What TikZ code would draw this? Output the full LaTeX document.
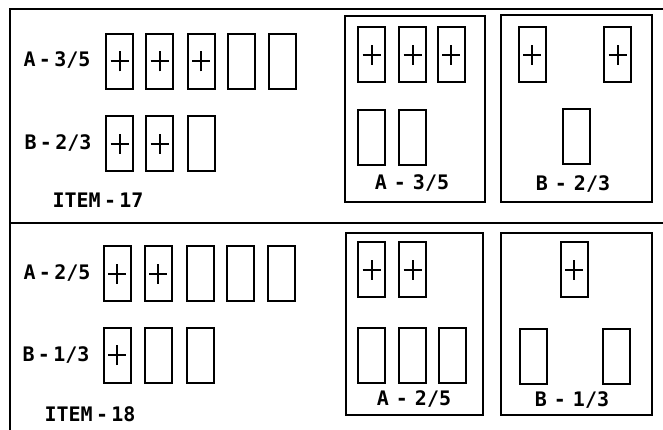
\documentclass[tikz,border=0pt]{standalone}
\usepackage{fontspec}
\setmonofont{DejaVu Sans Mono}
\usetikzlibrary{positioning}

\begin{document}
\begin{tikzpicture}[
    x=1pt, y=-1pt,
    card/.style={rectangle, draw, line width=2pt, minimum width=27pt, minimum height=55pt, inner sep=0pt},
    plus/.style={card, path picture={
        \draw[line width=2pt] ([xshift=-9pt]path picture bounding box.center) -- ([xshift=9pt]path picture bounding box.center)
            ([yshift=-10pt]path picture bounding box.center) -- ([yshift=10pt]path picture bounding box.center);}},
    panel/.style={rectangle, draw, line width=1.8pt, inner sep=0pt},
    frameline/.style={line width=2.4pt},
    lbl/.style={font=\ttfamily\bfseries\fontsize{20}{20}\selectfont, inner sep=0pt},
]
\useasboundingbox (0,0) rectangle (663,430);

% outer frame, open at right and bottom
\draw[frameline] (663,9) -- (10,9) -- (10,430);
\draw[frameline] (10,223) -- (663,223);

% ITEM-17, rows
\node[lbl] (la17) at (57,60) {A\,-\,3/5};
\node[lbl] (lb17) at (58,143) {B\,-\,2/3};
\node[lbl] (item17) at (98,200) {ITEM\,-\,17};
\foreach \i/\x in {1/119.5, 2/159.5, 3/201}
  \node[plus] (a17-\i) at (\x,61.5) {};
\node[card] (a17-4) at (241,61.5) {};
\node[card] (a17-5) at (282,61.5) {};
\node[plus] (b17-1) at (119.5,144) {};
\node[plus] (b17-2) at (159.5,144) {};
\node[card] (b17-3) at (201,144) {};

% ITEM-17, panels
\node[panel, minimum width=140pt, minimum height=186pt] (pa17) at (415,109) {};
\node[panel, minimum width=151pt, minimum height=187pt] (pb17) at (576.5,108.5) {};
\foreach \i/\x in {1/371.5, 2/412.5, 3/451}
  \node[plus] (pa17-t\i) at (\x,55) {};
\foreach \i/\x in {1/371, 2/412}
  \node[card] (pa17-b\i) at (\x,137.5) {};
\node[lbl] (pla17) at (412,183) {A\hspace{0.35em}-\hspace{0.35em}3/5};
\node[plus] (pb17-t1) at (532,55) {};
\node[plus] (pb17-t2) at (617.5,55) {};
\node[card] (pb17-b1) at (576,137) {};
\node[lbl] (plb17) at (573,184) {B\hspace{0.35em}-\hspace{0.35em}2/3};

% ITEM-18, rows
\node[lbl] (la18) at (57,273) {A\,-\,2/5};
\node[lbl] (lb18) at (56,355) {B\,-\,1/3};
\node[lbl] (item18) at (90,414) {ITEM\,-\,18};
\node[plus] (a18-1) at (117,273.5) {};
\node[plus] (a18-2) at (158,273.5) {};
\foreach \i/\x in {3/200, 4/240, 5/281}
  \node[card] (a18-\i) at (\x,273.5) {};
\node[plus] (b18-1) at (117,355) {};
\node[card] (b18-2) at (158,355) {};
\node[card] (b18-3) at (200,355) {};

% ITEM-18, panels
\node[panel, minimum width=137pt, minimum height=182pt] (pa18) at (414.5,324) {};
\node[panel, minimum width=151pt, minimum height=182pt] (pb18) at (576.5,324) {};
\foreach \i/\x in {1/371.5, 2/412.5}
  \node[plus] (pa18-t\i) at (\x,269.5) {};
\foreach \i/\x in {1/371.5, 2/412.5, 3/452}
  \node[card] (pa18-b\i) at (\x,355) {};
\node[lbl] (pla18) at (414,399) {A\hspace{0.35em}-\hspace{0.35em}2/5};
\node[plus] (pb18-t1) at (574,269.5) {};
\node[card] (pb18-b1) at (533,356) {};
\node[card] (pb18-b2) at (616.5,356) {};
\node[lbl] (plb18) at (572,400) {B\hspace{0.35em}-\hspace{0.35em}1/3};
\end{tikzpicture}
\end{document}
